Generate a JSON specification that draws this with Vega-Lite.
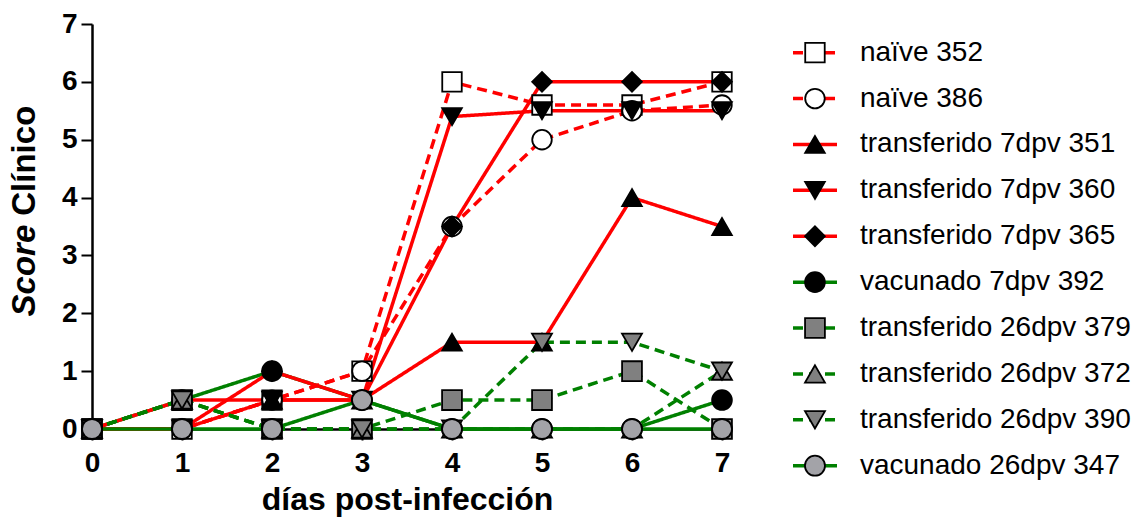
{
  "$schema": "https://vega.github.io/schema/vega-lite/v6.json",
  "width": 630,
  "height": 405,
  "autosize": {"type": "none"},
  "padding": {"left": 92, "top": 24, "right": 417, "bottom": 89},
  "background": "white",
  "config": {"view": {"stroke": null}, "font": "Liberation Sans"},
  "datasets": {
    "scores": [
      {"serie": "vacunado 7dpv 392", "dia": 0, "score": 0},
      {"serie": "vacunado 7dpv 392", "dia": 1, "score": 0.5},
      {"serie": "vacunado 7dpv 392", "dia": 2, "score": 1},
      {"serie": "vacunado 7dpv 392", "dia": 3, "score": 0.5},
      {"serie": "vacunado 7dpv 392", "dia": 4, "score": 0},
      {"serie": "vacunado 7dpv 392", "dia": 5, "score": 0},
      {"serie": "vacunado 7dpv 392", "dia": 6, "score": 0},
      {"serie": "vacunado 7dpv 392", "dia": 7, "score": 0.5},
      {"serie": "naïve 352", "dia": 0, "score": 0},
      {"serie": "naïve 352", "dia": 1, "score": 0},
      {"serie": "naïve 352", "dia": 2, "score": 0.5},
      {"serie": "naïve 352", "dia": 3, "score": 1},
      {"serie": "naïve 352", "dia": 4, "score": 6},
      {"serie": "naïve 352", "dia": 5, "score": 5.6},
      {"serie": "naïve 352", "dia": 6, "score": 5.6},
      {"serie": "naïve 352", "dia": 7, "score": 6},
      {"serie": "naïve 386", "dia": 0, "score": 0},
      {"serie": "naïve 386", "dia": 1, "score": 0},
      {"serie": "naïve 386", "dia": 2, "score": 0.5},
      {"serie": "naïve 386", "dia": 3, "score": 1},
      {"serie": "naïve 386", "dia": 4, "score": 3.5},
      {"serie": "naïve 386", "dia": 5, "score": 5},
      {"serie": "naïve 386", "dia": 6, "score": 5.5},
      {"serie": "naïve 386", "dia": 7, "score": 5.6},
      {"serie": "transferido 7dpv 351", "dia": 0, "score": 0},
      {"serie": "transferido 7dpv 351", "dia": 1, "score": 0.5},
      {"serie": "transferido 7dpv 351", "dia": 2, "score": 0.5},
      {"serie": "transferido 7dpv 351", "dia": 3, "score": 0.5},
      {"serie": "transferido 7dpv 351", "dia": 4, "score": 1.5},
      {"serie": "transferido 7dpv 351", "dia": 5, "score": 1.5},
      {"serie": "transferido 7dpv 351", "dia": 6, "score": 4},
      {"serie": "transferido 7dpv 351", "dia": 7, "score": 3.5},
      {"serie": "transferido 7dpv 360", "dia": 0, "score": 0},
      {"serie": "transferido 7dpv 360", "dia": 1, "score": 0},
      {"serie": "transferido 7dpv 360", "dia": 2, "score": 0.5},
      {"serie": "transferido 7dpv 360", "dia": 3, "score": 0.5},
      {"serie": "transferido 7dpv 360", "dia": 4, "score": 5.4},
      {"serie": "transferido 7dpv 360", "dia": 5, "score": 5.5},
      {"serie": "transferido 7dpv 360", "dia": 6, "score": 5.5},
      {"serie": "transferido 7dpv 360", "dia": 7, "score": 5.5},
      {"serie": "transferido 7dpv 365", "dia": 0, "score": 0},
      {"serie": "transferido 7dpv 365", "dia": 1, "score": 0},
      {"serie": "transferido 7dpv 365", "dia": 2, "score": 1},
      {"serie": "transferido 7dpv 365", "dia": 3, "score": 0.5},
      {"serie": "transferido 7dpv 365", "dia": 4, "score": 3.5},
      {"serie": "transferido 7dpv 365", "dia": 5, "score": 6},
      {"serie": "transferido 7dpv 365", "dia": 6, "score": 6},
      {"serie": "transferido 7dpv 365", "dia": 7, "score": 6},
      {"serie": "transferido 26dpv 379", "dia": 0, "score": 0},
      {"serie": "transferido 26dpv 379", "dia": 1, "score": 0.5},
      {"serie": "transferido 26dpv 379", "dia": 2, "score": 0},
      {"serie": "transferido 26dpv 379", "dia": 3, "score": 0},
      {"serie": "transferido 26dpv 379", "dia": 4, "score": 0.5},
      {"serie": "transferido 26dpv 379", "dia": 5, "score": 0.5},
      {"serie": "transferido 26dpv 379", "dia": 6, "score": 1},
      {"serie": "transferido 26dpv 379", "dia": 7, "score": 0},
      {"serie": "transferido 26dpv 372", "dia": 0, "score": 0},
      {"serie": "transferido 26dpv 372", "dia": 1, "score": 0.5},
      {"serie": "transferido 26dpv 372", "dia": 2, "score": 0},
      {"serie": "transferido 26dpv 372", "dia": 3, "score": 0},
      {"serie": "transferido 26dpv 372", "dia": 4, "score": 0},
      {"serie": "transferido 26dpv 372", "dia": 5, "score": 0},
      {"serie": "transferido 26dpv 372", "dia": 6, "score": 0},
      {"serie": "transferido 26dpv 372", "dia": 7, "score": 1},
      {"serie": "transferido 26dpv 390", "dia": 0, "score": 0},
      {"serie": "transferido 26dpv 390", "dia": 1, "score": 0.5},
      {"serie": "transferido 26dpv 390", "dia": 2, "score": 0},
      {"serie": "transferido 26dpv 390", "dia": 3, "score": 0},
      {"serie": "transferido 26dpv 390", "dia": 4, "score": 0},
      {"serie": "transferido 26dpv 390", "dia": 5, "score": 1.5},
      {"serie": "transferido 26dpv 390", "dia": 6, "score": 1.5},
      {"serie": "transferido 26dpv 390", "dia": 7, "score": 1},
      {"serie": "vacunado 26dpv 347", "dia": 0, "score": 0},
      {"serie": "vacunado 26dpv 347", "dia": 1, "score": 0},
      {"serie": "vacunado 26dpv 347", "dia": 2, "score": 0},
      {"serie": "vacunado 26dpv 347", "dia": 3, "score": 0.5},
      {"serie": "vacunado 26dpv 347", "dia": 4, "score": 0},
      {"serie": "vacunado 26dpv 347", "dia": 5, "score": 0},
      {"serie": "vacunado 26dpv 347", "dia": 6, "score": 0},
      {"serie": "vacunado 26dpv 347", "dia": 7, "score": 0}
    ],
    "leyenda": [
      {"serie": "naïve 352"},
      {"serie": "naïve 386"},
      {"serie": "transferido 7dpv 351"},
      {"serie": "transferido 7dpv 360"},
      {"serie": "transferido 7dpv 365"},
      {"serie": "vacunado 7dpv 392"},
      {"serie": "transferido 26dpv 379"},
      {"serie": "transferido 26dpv 372"},
      {"serie": "transferido 26dpv 390"},
      {"serie": "vacunado 26dpv 347"}
    ]
  },
  "layer": [
    {
      "layer": [
        {
          "data": {"name": "scores"},
          "mark": {"type": "line", "strokeWidth": 3.5, "clip": false},
          "encoding": {
            "x": {
              "field": "dia", "type": "quantitative",
              "scale": {"domain": [0, 7], "nice": false, "zero": false},
              "axis": {
                "values": [0, 1, 2, 3, 4, 5, 6, 7], "format": "d", "grid": false,
                "domainColor": "black", "domainWidth": 2.5,
                "tickColor": "black", "tickWidth": 2, "tickSize": 11,
                "labelFont": "Liberation Sans", "labelFontSize": 28, "labelFontWeight": "bold",
                "labelColor": "black", "labelPadding": 9, "labelFlush": false, "labelOverlap": false,
                "title": "días post-infección", "titleFont": "Liberation Sans", "titleFontSize": 32,
                "titleFontWeight": "bold", "titleColor": "black", "titleBaseline": "alphabetic", "titleY": 80
              }
            },
            "y": {
              "field": "score", "type": "quantitative",
              "scale": {"domain": [0, 7], "nice": false, "zero": false},
              "axis": {
                "values": [0, 1, 2, 3, 4, 5, 6, 7], "format": "d", "grid": false, "title": null,
                "domainColor": "black", "domainWidth": 2.5,
                "tickColor": "black", "tickWidth": 2, "tickSize": 11,
                "labelFont": "Liberation Sans", "labelFontSize": 28, "labelFontWeight": "bold",
                "labelColor": "black", "labelPadding": 4, "labelOverlap": false
              }
            },
            "detail": {"field": "serie", "type": "nominal"},
            "stroke": {
              "field": "serie", "type": "nominal", "legend": null,
              "scale": {
                "domain": ["naïve 352", "naïve 386", "transferido 7dpv 351", "transferido 7dpv 360", "transferido 7dpv 365", "vacunado 7dpv 392", "transferido 26dpv 379", "transferido 26dpv 372", "transferido 26dpv 390", "vacunado 26dpv 347"],
                "range": ["#ff0000", "#ff0000", "#ff0000", "#ff0000", "#ff0000", "#008000", "#008000", "#008000", "#008000", "#008000"]
              }
            },
            "strokeDash": {
              "field": "serie", "type": "nominal", "legend": null,
              "scale": {
                "domain": ["naïve 352", "naïve 386", "transferido 7dpv 351", "transferido 7dpv 360", "transferido 7dpv 365", "vacunado 7dpv 392", "transferido 26dpv 379", "transferido 26dpv 372", "transferido 26dpv 390", "vacunado 26dpv 347"],
                "range": [[10, 6], [10, 6], [1, 0], [1, 0], [1, 0], [1, 0], [10, 6], [10, 6], [10, 6], [1, 0]]
              }
            }
          }
        },
        {
          "data": {"name": "scores"},
          "transform": [{"filter": "datum.serie === 'vacunado 7dpv 392'"}],
          "mark": {"type": "point", "filled": true, "stroke": "black", "strokeWidth": 1.8, "opacity": 1, "fillOpacity": 1, "strokeOpacity": 1, "clip": false},
          "encoding": {
            "x": {"field": "dia", "type": "quantitative"},
            "y": {"field": "score", "type": "quantitative"},
            "shape": {"field": "serie", "type": "nominal", "legend": null},
            "fill": {"field": "serie", "type": "nominal", "legend": null},
            "size": {"field": "serie", "type": "nominal", "legend": null}
          }
        },
        {
          "data": {"name": "scores"},
          "transform": [{"filter": "datum.serie !== 'vacunado 7dpv 392'"}],
          "mark": {"type": "point", "filled": true, "stroke": "black", "strokeWidth": 1.8, "opacity": 1, "fillOpacity": 1, "strokeOpacity": 1, "clip": false},
          "encoding": {
            "x": {"field": "dia", "type": "quantitative"},
            "y": {"field": "score", "type": "quantitative"},
            "shape": {
              "field": "serie", "type": "nominal", "legend": null,
              "scale": {
                "domain": ["naïve 352", "naïve 386", "transferido 7dpv 351", "transferido 7dpv 360", "transferido 7dpv 365", "vacunado 7dpv 392", "transferido 26dpv 379", "transferido 26dpv 372", "transferido 26dpv 390", "vacunado 26dpv 347"],
                "range": ["square", "circle", "triangle-up", "triangle-down", "diamond", "circle", "square", "triangle-up", "triangle-down", "circle"]
              }
            },
            "fill": {
              "field": "serie", "type": "nominal", "legend": null,
              "scale": {
                "domain": ["naïve 352", "naïve 386", "transferido 7dpv 351", "transferido 7dpv 360", "transferido 7dpv 365", "vacunado 7dpv 392", "transferido 26dpv 379", "transferido 26dpv 372", "transferido 26dpv 390", "vacunado 26dpv 347"],
                "range": ["#ffffff", "#ffffff", "#000000", "#000000", "#000000", "#000000", "#808080", "#808080", "#808080", "#a3a3a8"]
              }
            },
            "size": {
              "field": "serie", "type": "nominal", "legend": null,
              "scale": {
                "domain": ["naïve 352", "naïve 386", "transferido 7dpv 351", "transferido 7dpv 360", "transferido 7dpv 365", "vacunado 7dpv 392", "transferido 26dpv 379", "transferido 26dpv 372", "transferido 26dpv 390", "vacunado 26dpv 347"],
                "range": [380, 400, 450, 450, 576, 400, 380, 450, 450, 400]
              }
            }
          }
        },
        {
          "data": {"values": [{"t": "Score"}]},
          "mark": {"type": "text", "angle": 270, "align": "right", "baseline": "alphabetic", "font": "Liberation Sans", "fontSize": 33, "fontWeight": "bold", "fontStyle": "italic", "dx": -4, "color": "black"},
          "encoding": {"x": {"datum": -0.633}, "y": {"datum": 3.6}, "text": {"field": "t"}}
        },
        {
          "data": {"values": [{"t": "Clínico"}]},
          "mark": {"type": "text", "angle": 270, "align": "left", "baseline": "alphabetic", "font": "Liberation Sans", "fontSize": 33, "fontWeight": "bold", "dx": 5, "color": "black"},
          "encoding": {"x": {"datum": -0.633}, "y": {"datum": 3.6}, "text": {"field": "t"}}
        }
      ]
    },
    {
      "data": {"name": "leyenda"},
      "encoding": {
        "y": {
          "field": "serie", "type": "nominal", "axis": null,
          "scale": {
            "type": "point", "padding": 0, "range": [28.7, 441.7],
            "domain": ["naïve 352", "naïve 386", "transferido 7dpv 351", "transferido 7dpv 360", "transferido 7dpv 365", "vacunado 7dpv 392", "transferido 26dpv 379", "transferido 26dpv 372", "transferido 26dpv 390", "vacunado 26dpv 347"]
          }
        }
      },
      "layer": [
        {
          "mark": {"type": "rule", "strokeWidth": 3.5},
          "encoding": {
            "x": {"datum": 7.789},
            "x2": {"datum": 8.278},
            "stroke": {"field": "serie", "type": "nominal", "legend": null},
            "strokeDash": {"field": "serie", "type": "nominal", "legend": null}
          }
        },
        {
          "mark": {"type": "point", "filled": true, "stroke": "black", "strokeWidth": 1.8, "opacity": 1, "fillOpacity": 1, "strokeOpacity": 1},
          "encoding": {
            "x": {"datum": 8.033},
            "shape": {"field": "serie", "type": "nominal", "legend": null},
            "fill": {"field": "serie", "type": "nominal", "legend": null},
            "size": {"field": "serie", "type": "nominal", "legend": null}
          }
        },
        {
          "mark": {"type": "text", "align": "left", "baseline": "middle", "font": "Liberation Sans", "fontSize": 28, "color": "black"},
          "encoding": {
            "x": {"datum": 8.533},
            "text": {"field": "serie", "type": "nominal"}
          }
        }
      ]
    }
  ],
  "resolve": {"scale": {"y": "independent"}}
}
